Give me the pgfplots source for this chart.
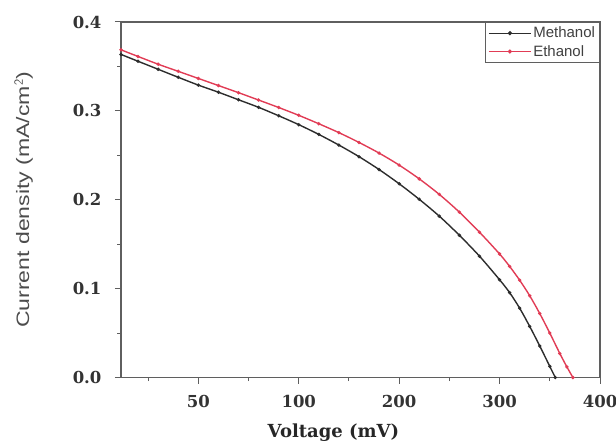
\documentclass[border=0pt]{standalone}
\usepackage{fontspec}
\usepackage{pgfplots}
\pgfplotsset{compat=1.18}
\setmainfont{DejaVu Serif}
\newfontfamily\labelsans[FakeStretch=1.28]{Liberation Sans}
\newfontfamily\legsans{Liberation Sans}
\definecolor{axgray}{RGB}{95,95,95}
\definecolor{curveblack}{RGB}{45,45,45}
\definecolor{curvered}{RGB}{225,60,85}
\begin{document}
\begin{tikzpicture}
\begin{axis}[
  scale only axis,
  width=479pt, height=355.5pt,
  xmin=-77, xmax=400, ymin=0, ymax=0.4,
  axis line style={draw=axgray, line width=1.6pt},
  xtick={0,100,200,300,400},
  xticklabels={50,100,200,300,400},
  minor xtick={-50,50,150,250,350},
  ytick={0,0.1,0.2,0.3,0.4},
  minor ytick={0.05,0.15,0.25,0.35},
  yticklabel style={/pgf/number format/fixed,/pgf/number format/precision=1,/pgf/number format/fixed zerofill},
  /pgf/number format/assume math mode=true,
  tick label style={font=\bfseries\fontsize{16.5}{18}\selectfont, text=black!80},
  xtick pos=left, ytick pos=left,
  tick align=outside,
  major tick length=6pt, minor tick length=3.5pt,
  every tick/.style={draw=axgray, line width=1pt},
  xticklabel style={yshift=-8pt},
  yticklabel style={xshift=-10pt},
  xlabel={Voltage (mV)},
  xlabel style={font=\bfseries\fontsize{18}{20}\selectfont, text=black!85, at={(axis description cs:0.4436,0)}, anchor=north, inner sep=0pt, yshift=-46pt},
  ylabel={Current density (mA/cm$^{\mathsf{2}}$)},
  ylabel style={font=\labelsans\fontsize{18}{20}\selectfont, text=black!70, at={(axis description cs:-0.2035,0.5)}, anchor=center, rotate=0},
  legend style={at={(1,1)}, anchor=north east, draw=axgray, line width=1pt, fill=white,
    font=\legsans\fontsize{15}{17}\selectfont, text=black!75, inner sep=2.5pt, row sep=2pt},
  legend cell align=left,
  legend image code/.code={\draw[#1, line width=0.8pt] (0pt,0pt) -- (42pt,0pt); \fill[#1] (21pt,0pt) circle (1.3pt);},
]
\addplot[curveblack, line width=1.4pt, smooth, mark=*, mark size=0.9pt, mark options={fill=curveblack}] coordinates {
(-77,0.3635) (-60,0.3558) (-40,0.3468) (-20,0.3378) (0,0.329) (20,0.321) (40,0.3125) (60,0.304) (80,0.2945) (100,0.2845)
(120,0.2735) (140,0.2615) (160,0.2485) (180,0.234) (200,0.218) (220,0.2005) (240,0.1815) (260,0.160) (280,0.1365)
(300,0.110) (310,0.0955) (320,0.078) (330,0.0575) (340,0.0355) (350,0.0125) (355.5,0)
};
\addlegendentry{Methanol}
\addplot[curvered, line width=1.4pt, smooth, mark=*, mark size=0.9pt, mark options={fill=curvered}] coordinates {
(-77,0.3687) (-60,0.3612) (-40,0.3525) (-20,0.3445) (0,0.3365) (20,0.3285) (40,0.3205) (60,0.3122) (80,0.3038) (100,0.295)
(120,0.2855) (140,0.2755) (160,0.2645) (180,0.2525) (200,0.239) (220,0.2235) (240,0.206) (260,0.186) (280,0.1635)
(300,0.139) (310,0.125) (320,0.1095) (330,0.092) (340,0.072) (350,0.050) (360,0.027) (367,0.012) (373,0)
};
\addlegendentry{Ethanol}
\end{axis}
\pgfresetboundingbox
\path[use as bounding box] ([shift={(-121pt,-64.5pt)}]current axis.south west) rectangle ([shift={(16pt,22pt)}]current axis.north east);
\end{tikzpicture}
\end{document}
